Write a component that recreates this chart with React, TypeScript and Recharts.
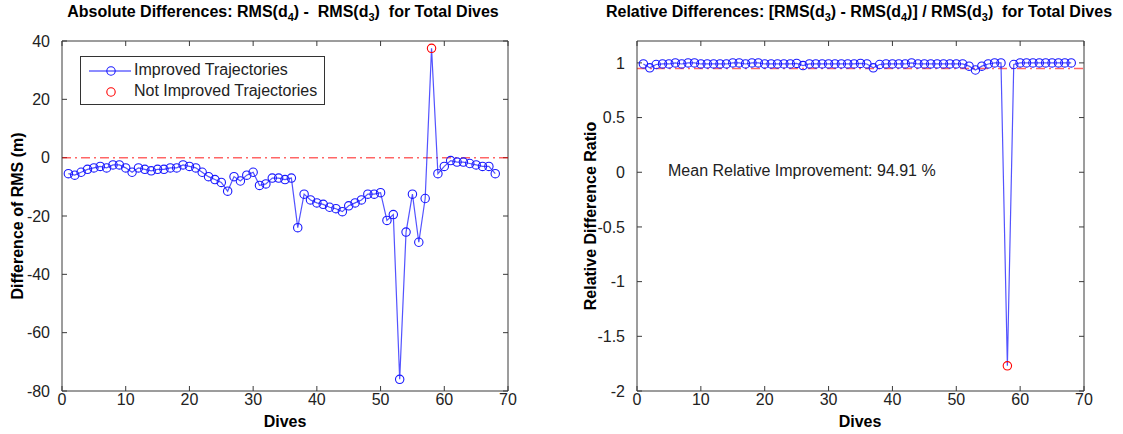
import React from 'react';
import {
  ComposedChart,
  Line,
  XAxis,
  YAxis,
  ReferenceLine,
} from 'recharts';

// dive numbers (x axis)
const dives = [
  1, 2, 3, 4, 5, 6, 7, 8, 9, 10, 11, 12, 13, 14, 15, 16, 17, 18, 19, 20,
  21, 22, 23, 24, 25, 26, 27, 28, 29, 30, 31, 32, 33, 34, 35, 36, 37, 38, 39, 40,
  41, 42, 43, 44, 45, 46, 47, 48, 49, 50, 51, 52, 53, 54, 55, 56, 57, 58, 59, 60,
  61, 62, 63, 64, 65, 66, 67, 68,
];

// RMS(d4) - RMS(d3), metres
const absDiff = [
  -5.5, -6, -5, -4, -3.5, -3, -3.5, -2.5, -2.5, -3.5, -5, -3.5, -4, -4.5, -4, -4, -3.5, -3.5, -2.5, -3,
  -3.5, -5, -6.5, -7.5, -8.5, -11.5, -6.5, -8, -6, -5, -9.5, -9, -7, -7, -7.5, -7, -24, -12.5, -14.5, -15.5,
  -16, -17, -17.5, -18.5, -16.5, -15.5, -14.5, -12.5, -12.5, -12, -21.5, -19.5, -76, -25.5, -12.5, -29, -14, 37.5, -5.5, -3,
  -1, -1.5, -1.5, -2, -2.5, -3, -3, -5.5,
];

// [RMS(d3) - RMS(d4)] / RMS(d3)
const relDiff = [
  0.99, 0.955, 0.985, 0.99, 0.99, 1.0, 0.99, 1.0, 1.0, 0.99, 0.99, 0.99, 0.99, 0.99, 1.0, 1.0, 0.99, 1.0, 1.0, 0.99,
  0.99, 0.99, 0.99, 0.99, 0.995, 0.975, 0.99, 0.99, 0.99, 0.99, 0.99, 0.99, 0.99, 0.99, 0.995, 0.99, 0.955, 0.985, 0.99, 0.99,
  0.99, 0.99, 1.0, 0.99, 0.99, 0.99, 0.99, 0.99, 0.99, 0.99, 0.99, 0.97, 0.935, 0.97, 0.99, 1.0, 1.0, -1.77, 0.985, 1.0,
  1.0, 1.0, 1.0, 1.0, 1.0, 1.0, 1.0, 1.0,
];

const notImproved = [58];
const meanRelative = 0.9491;

const xTicks = [0, 10, 20, 30, 40, 50, 60, 70];
const absTicks = [-80, -60, -40, -20, 0, 20, 40];
const relTicks = [-2, -1.5, -1, -0.5, 0, 0.5, 1];

const absData = dives.map((d, i) => ({ dive: d, value: absDiff[i] }));
const relData = dives.map((d, i) => ({ dive: d, value: relDiff[i] }));

const FONT = 'Arial, "Liberation Sans", Helvetica, sans-serif';
const BLUE = '#1a1aff';
const RED = '#ff0000';
const AXIS = '#3a3a3a';
const tickStyle = { fontSize: 16, fill: '#222', fontFamily: FONT };
const X_DOMAIN: [number, number] = [0, 70];

const Marker = (props: any) => {
  const { cx, cy, payload, index } = props;
  if (cx == null || cy == null) return <g key={index} />;
  const bad = notImproved.includes(payload.dive);
  return (
    <circle
      key={index}
      cx={cx}
      cy={cy}
      r={4.2}
      fill="none"
      stroke={bad ? RED : BLUE}
      strokeWidth={1.1}
    />
  );
};

function Panel({
  data,
  domain,
  ticks,
  refY,
  yAxisWidth,
  rightMargin,
  width,
}: {
  data: { dive: number; value: number }[];
  domain: [number, number];
  ticks: number[];
  refY: number;
  yAxisWidth: number;
  rightMargin: number;
  width: number;
}) {
  const [y0, y1] = domain;
  const [x0, x1] = X_DOMAIN;
  // inward tick length (~5px) in data units
  const plotW = width - yAxisWidth - rightMargin - 1;
  const plotH = 434 - 40 - 1 - 43;
  const dx = ((x1 - x0) / plotW) * 5;
  const dy = ((y1 - y0) / plotH) * 5;

  const tickProps = { stroke: AXIS, strokeWidth: 1, ifOverflow: 'visible' as const };

  return (
    <ComposedChart
      width={width}
      height={434}
      data={data}
      margin={{ top: 41, right: rightMargin + 1, left: 0, bottom: 13 }}
    >
      <XAxis
        dataKey="dive"
        type="number"
        domain={X_DOMAIN}
        ticks={xTicks}
        tick={tickStyle}
        tickLine={false}
        tickSize={0}
        tickMargin={3}
        height={30}
        stroke={AXIS}
        interval={0}
      />
      <YAxis
        type="number"
        domain={domain}
        ticks={ticks}
        tick={tickStyle}
        tickLine={false}
        tickMargin={6}
        width={yAxisWidth}
        stroke={AXIS}
        interval={0}
        allowDataOverflow
      />

      {/* box: top and right edges */}
      <ReferenceLine y={y1} {...tickProps} />
      <ReferenceLine x={x1} {...tickProps} />

      {/* inward ticks on all four sides */}
      {xTicks.map((t) => (
        <ReferenceLine key={`b${t}`} segment={[{ x: t, y: y0 }, { x: t, y: y0 + dy }]} {...tickProps} />
      ))}
      {xTicks.map((t) => (
        <ReferenceLine key={`t${t}`} segment={[{ x: t, y: y1 }, { x: t, y: y1 - dy }]} {...tickProps} />
      ))}
      {ticks.map((t) => (
        <ReferenceLine key={`l${t}`} segment={[{ x: x0, y: t }, { x: x0 + dx, y: t }]} {...tickProps} />
      ))}
      {ticks.map((t) => (
        <ReferenceLine key={`r${t}`} segment={[{ x: x1, y: t }, { x: x1 - dx, y: t }]} {...tickProps} />
      ))}

      <ReferenceLine
        y={refY}
        stroke={RED}
        strokeOpacity={0.6}
        strokeDasharray="9 4 2 4"
        strokeWidth={1.5}
      />
      <Line
        type="linear"
        dataKey="value"
        stroke={BLUE}
        strokeOpacity={0.75}
        strokeWidth={1.2}
        dot={Marker}
        activeDot={false}
        isAnimationActive={false}
      />
    </ComposedChart>
  );
}

const titleStyle: React.CSSProperties = {
  position: 'absolute',
  top: 3,
  fontFamily: FONT,
  fontWeight: 'bold',
  fontSize: 16,
  whiteSpace: 'pre',
  transform: 'translateX(-50%)',
  color: '#000',
};

const labelStyle: React.CSSProperties = {
  position: 'absolute',
  fontFamily: FONT,
  fontWeight: 'bold',
  fontSize: 16,
  whiteSpace: 'pre',
  color: '#000',
};

const subStyle: React.CSSProperties = { fontSize: 11, verticalAlign: -4 };

export default function App() {
  return (
    <div
      style={{
        position: 'absolute',
        left: 0,
        top: 0,
        width: 1123,
        height: 434,
        background: '#fff',
        overflow: 'hidden',
      }}
    >
      <div style={{ position: 'absolute', left: 0, top: 0 }}>
        <Panel
          data={absData}
          domain={[-80, 40]}
          ticks={absTicks}
          refY={0}
          yAxisWidth={62}
          rightMargin={51}
          width={560}
        />
      </div>
      <div style={{ position: 'absolute', left: 560, top: 0 }}>
        <Panel
          data={relData}
          domain={[-2, 1.2]}
          ticks={relTicks}
          refY={meanRelative}
          yAxisWidth={77}
          rightMargin={38}
          width={563}
        />
      </div>

      <div style={{ ...titleStyle, left: 283 }}>
        Absolute Differences: RMS(d<span style={subStyle}>4</span>) -  RMS(d
        <span style={subStyle}>3</span>)  for Total Dives
      </div>
      <div style={{ ...titleStyle, left: 859 }}>
        Relative Differences: [RMS(d<span style={subStyle}>3</span>) - RMS(d
        <span style={subStyle}>4</span>)] / RMS(d<span style={subStyle}>3</span>)  for Total
        Dives
      </div>

      <div style={{ ...labelStyle, left: 285, top: 413, transform: 'translateX(-50%)' }}>Dives</div>
      <div style={{ ...labelStyle, left: 860, top: 413, transform: 'translateX(-50%)' }}>Dives</div>
      <div
        style={{
          ...labelStyle,
          left: 18,
          top: 216,
          transform: 'translate(-50%, -50%) rotate(-90deg)',
        }}
      >
        Difference of RMS (m)
      </div>
      <div
        style={{
          ...labelStyle,
          left: 591,
          top: 216,
          transform: 'translate(-50%, -50%) rotate(-90deg)',
        }}
      >
        Relative Difference Ratio
      </div>

      <div
        style={{
          position: 'absolute',
          left: 668,
          top: 162,
          fontFamily: FONT,
          fontSize: 16,
          color: '#222',
          whiteSpace: 'pre',
        }}
      >
        Mean Relative Improvement: 94.91 %
      </div>

      {/* legend box */}
      <div
        style={{
          position: 'absolute',
          left: 80,
          top: 56,
          width: 243,
          height: 47,
          border: '1px solid #333',
          background: '#fff',
          fontFamily: FONT,
          fontSize: 16,
          color: '#222',
        }}
      >
        <svg width={52} height={47} style={{ position: 'absolute', left: 0, top: 0 }}>
          <line x1={8} x2={50} y1={14} y2={14} stroke={BLUE} strokeWidth={1} />
          <circle cx={30} cy={14} r={4.2} fill="none" stroke={BLUE} strokeWidth={1.1} />
          <circle cx={30} cy={35} r={4.2} fill="none" stroke={RED} strokeWidth={1.1} />
        </svg>
        <div style={{ position: 'absolute', left: 53, top: 4, whiteSpace: 'pre' }}>Improved Trajectories</div>
        <div style={{ position: 'absolute', left: 53, top: 25, whiteSpace: 'pre' }}>Not Improved Trajectories</div>
      </div>
    </div>
  );
}
